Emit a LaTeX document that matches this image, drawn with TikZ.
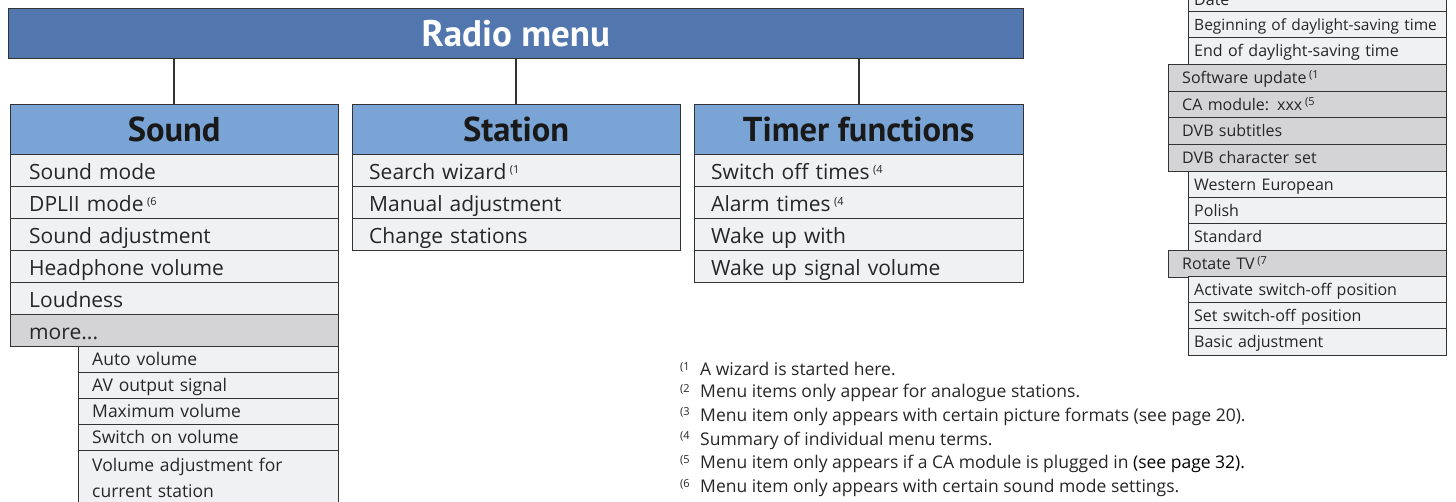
\documentclass[tikz,border=0pt]{standalone}
\usepackage{fontspec}
\setmainfont{Open Sans}
\newfontfamily\headfont{PT Sans}
\usetikzlibrary{positioning}
\definecolor{MenuBlue}{HTML}{5277AE}
\definecolor{HeadBlue}{HTML}{7BA4D6}
\definecolor{ItemGrey}{HTML}{F0F1F3}
\definecolor{MoreGrey}{HTML}{D4D4D6}
\definecolor{LineGrey}{HTML}{333333}
\newcommand\supnote[1]{\,{\fontsize{11}{11}\selectfont\raisebox{0.9ex}{(#1}}}
\tikzset{
    menubar/.style = {draw=LineGrey, fill=MenuBlue, anchor=north west,
        minimum width=1015pt, minimum height=50pt, inner sep=0pt,
        text=white, font=\headfont\bfseries\fontsize{37}{37}\selectfont},
    headbox/.style = {draw=LineGrey, fill=HeadBlue, anchor=north west,
        minimum width=#1, minimum height=50pt, inner sep=0pt,
        text=black!90, font=\headfont\bfseries\fontsize{34.5}{34.5}\selectfont},
    itembox/.style = {draw=LineGrey, fill=ItemGrey, anchor=north west,
        text width=#1, inner xsep=17pt, inner ysep=0pt, minimum height=32pt,
        text height=18pt, text depth=0pt, align=left,
        text=black!85, font=\fontsize{21}{21}\selectfont},
    subbox/.style = {itembox=#1, inner xsep=14pt, minimum height=26pt,
        text height=13pt, text depth=1pt, font=\fontsize{17.5}{26}\selectfont},
    sidew/.style = {itembox=246pt, inner xsep=6pt, minimum height=26.6pt,
        text height=13pt, text depth=1pt, font=\fontsize{16}{16}\selectfont},
    sideg/.style = {sidew, text width=250pt, inner xsep=14pt, fill=MoreGrey},
    footnote/.style = {anchor=west, inner sep=0pt, text=black!85,
        font=\fontsize{17.5}{17.5}\selectfont},
    link/.style = {draw=LineGrey, line width=1.8pt}
}
\begin{document}
\begin{tikzpicture}[x=1pt, y=-1pt]
\useasboundingbox (0,0) rectangle (1456,501);
% main bar and the three headers
\node[menubar] (radio) at (8,8) {Radio menu};
\node[headbox=328pt] (sound) at (10,104) {Sound};
\node[headbox=328pt] (station) at (352,104) {Station};
\node[headbox=329pt] (timer) at (694,104) {Timer functions};
\foreach \h in {sound,station,timer}
    \draw[link] (\h.north) -- (\h.north |- radio.south);
% sound
\foreach \t [count=\i from 0] in {Sound mode, DPLII mode\supnote{6}, Sound adjustment,
        Headphone volume, Loudness}
    \node[itembox=290pt, inner xsep=19pt] (snd\i) at (10,154+32*\i) {\t};
\node[itembox=290pt, inner xsep=19pt, fill=MoreGrey] (more) at (10,314) {more...};
\foreach \t [count=\i from 0] in {Auto volume, AV output signal, Maximum volume,
        Switch on volume}
    \node[subbox=232pt] (sub\i) at (78,346+26*\i) {\t};
\node[subbox=232pt, minimum height=56pt, text height={}, text depth={}]
    (sub4) at (78,450) {Volume adjustment for\\current station};
% station
\foreach \t [count=\i from 0] in {Search wizard\supnote{1}, Manual adjustment,
        Change stations}
    \node[itembox=294pt] (stn\i) at (352,154+32*\i) {\t};
% timer functions
\foreach \t [count=\i from 0] in {Switch off times\supnote{4}, Alarm times\supnote{4},
        Wake up with, Wake up signal volume}
    \node[itembox=295pt] (tmr\i) at (694,154+32*\i) {\t};
% right column
\node[sidew, minimum height=23pt] (side0) at (1188,-12) {Date};
\node[sidew, font=\fontsize{15.5}{15.5}\selectfont] (side1) at (1188,11)
    {\mbox{Beginning of daylight-saving time}};
\node[sidew] (side2) at (1188,37) {End of daylight-saving time};
\foreach \y/\t [count=\i] in {64/Software update\supnote{1}, 91/CA module: xxx\supnote{5},
        117/DVB subtitles, 144/DVB character set}
    \node[sideg] (opt\i) at (1168,\y) {\t};
\foreach \y/\t [count=\i] in {171/Western European, 197/Polish, 223/Standard}
    \node[sidew] (chr\i) at (1188,\y) {\t};
\node[sideg] (rot) at (1168,250) {Rotate TV\supnote{7}};
\foreach \y/\t [count=\i] in {276/Activate switch-off position,
        302/Set switch-off position, 328/Basic adjustment}
    \node[sidew] (rot\i) at (1188,\y) {\t};
% footnotes
\foreach \n/\t in {1/A wizard is started here.,
        2/Menu items only appear for analogue stations.,
        3/Menu item only appears with certain picture formats (see page 20).,
        4/Summary of individual menu terms.,
        5/Menu item only appears if a CA module is plugged in {\color{black}(see page 32).},
        6/Menu item only appears with certain sound mode settings.}
    \node[footnote] (fn\n) at (680,345.2+23.8*\n)
        {\makebox[20pt][l]{\fontsize{11}{11}\selectfont\raisebox{0.9ex}{(\n}}\t};
\end{tikzpicture}
\end{document}
